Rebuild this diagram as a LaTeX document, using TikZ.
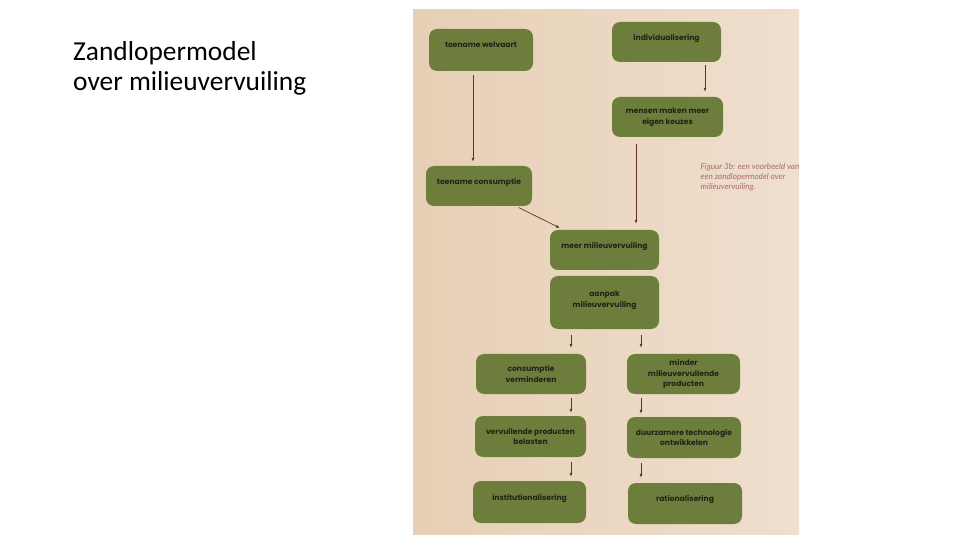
\documentclass[tikz,border=0pt]{standalone}
\usepackage{fontspec}
\setmainfont{Carlito}
\newfontfamily\boxfont{Poppins}
\newfontfamily\capfont{Lato}
\usetikzlibrary{calc,positioning,arrows.meta}

\definecolor{slidegreen}{RGB}{108,125,60}
\definecolor{boxtext}{RGB}{34,36,22}
\definecolor{arrowcol}{RGB}{92,52,42}
\definecolor{paperleft}{RGB}{231,207,181}
\definecolor{paperright}{RGB}{239,223,206}
\definecolor{captioncol}{RGB}{168,108,108}

\tikzset{
	box/.style={fill=slidegreen, rounded corners=8bp, inner sep=0pt, minimum height=40bp,
		align=center, text=boxtext, font=\boxfont\bfseries\fontsize{7.6}{10.8}\selectfont},
	onebox/.style={box, text depth=10bp},
	arr/.style={-{Latex[length=4bp,width=3bp]}, draw=arrowcol, line width=0.7bp}
}

\begin{document}
\begin{tikzpicture}[x=1bp,y=-1bp]
		\useasboundingbox (0,0) rectangle (960,540);
		\fill[white] (0,0) rectangle (960,540);

		\node[anchor=north west, inner sep=0pt, align=left, font=\fontsize{27.5}{30}\selectfont] (title) at (73,41) {Zandlopermodel\\over milieuvervuiling};

		% photo of the page
		\begin{scope}
			\clip (413,10) rectangle (799,534);
			\fill[left color=paperleft, right color=paperright] (413,10) rectangle (799,534);
			\node[anchor=north west, inner sep=0pt, align=left, text=captioncol, font=\capfont\itshape\fontsize{8.2}{10}\selectfont] (caption) at (700.5,163) {Figuur 3b: een voorbeeld van\\een zandlopermodel over\\milieuvervuiling.};
		\end{scope}

		\node[onebox, minimum width=104bp, minimum height=42bp] (welvaart) at (481,50) {toename welvaart};
		\node[onebox, minimum width=109bp] (individu) at (666.5,42) {individualisering};
		\node[box, minimum width=111bp] (keuzes) at (667.5,117) {mensen maken meer\\eigen keuzes};
		\node[onebox, minimum width=106bp] (consumptie) at (479,186) {toename consumptie};
		\node[onebox, minimum width=109bp] (meer) at (604.5,250) {meer milieuvervuiling};
		\node[box, minimum width=109bp, minimum height=53bp, text depth=6bp] (aanpak) at (604.5,302.5) {aanpak\\milieuvervuiling};

		\node[box, minimum width=110bp] (verminderen) at (531,374) {consumptie\\verminderen};
		\node[box, minimum width=113bp] (minder) at (683.5,374) {minder\\milieuvervuilende\\producten};
		\node[box, minimum width=111bp, minimum height=41bp] (belasten) at (530.5,436.5) {vervuilende producten\\belasten};
		\node[box, minimum width=114bp, minimum height=41bp] (duurzaam) at (684,437.5) {duurzamere technologie\\ontwikkelen};
		\node[onebox, minimum width=113bp, minimum height=42bp] (institutie) at (529.5,502) {institutionalisering};
		\node[onebox, minimum width=114bp, minimum height=41bp] (ratio) at (685,503.5) {rationalisering};

		\draw[arr, shorten <=4bp, shorten >=4bp] ([xshift=-8bp]welvaart.south) -- ([xshift=-8bp]welvaart.south |- consumptie.north);
		\draw[arr, shorten <=3bp, shorten >=5bp] ([xshift=38.5bp]individu.south) -- ([xshift=38.5bp]individu.south |- keuzes.north);
		\draw[arr, shorten <=7bp, shorten >=6bp] ([xshift=-31.5bp]keuzes.south) -- ([xshift=-31.5bp]keuzes.south |- meer.north);
		\draw[arr, shorten <=3bp, shorten >=4bp] ([xshift=37bp]consumptie.south) -- ([xshift=-41bp]meer.north);

		\draw[arr, shorten <=6bp, shorten >=6bp] ([xshift=-33.5bp]aanpak.south) -- ([xshift=-33.5bp]aanpak.south |- verminderen.north);
		\draw[arr, shorten <=6bp, shorten >=6bp] ([xshift=36.5bp]aanpak.south) -- ([xshift=36.5bp]aanpak.south |- minder.north);
		\draw[arr, shorten <=4bp, shorten >=3bp] ([xshift=40bp]verminderen.south) -- ([xshift=40bp]verminderen.south |- belasten.north);
		\draw[arr, shorten <=4bp, shorten >=3bp] ([xshift=-42.5bp]minder.south) -- ([xshift=-42.5bp]minder.south |- duurzaam.north);
		\draw[arr, shorten <=5bp, shorten >=4bp] ([xshift=40.5bp]belasten.south) -- ([xshift=40.5bp]belasten.south |- institutie.north);
		\draw[arr, shorten <=5bp, shorten >=5bp] ([xshift=-43bp]duurzaam.south) -- ([xshift=-43bp]duurzaam.south |- ratio.north);
	\end{tikzpicture}
\end{document}
